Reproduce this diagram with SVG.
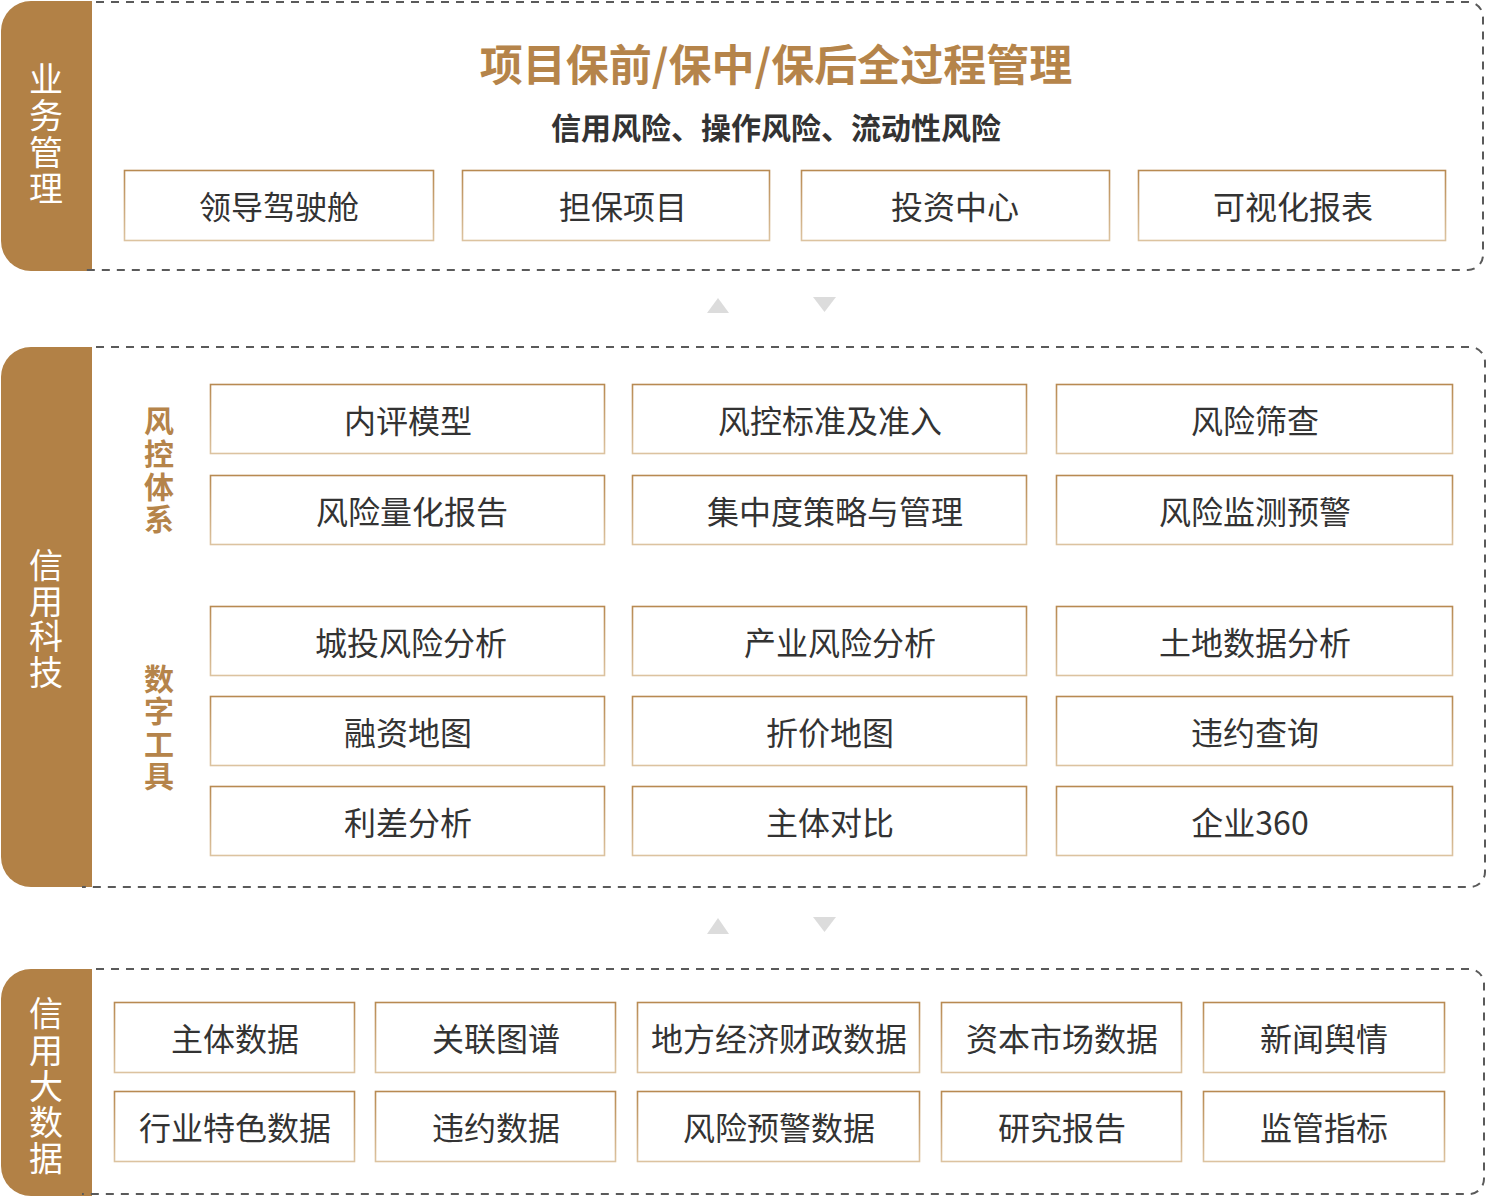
<svg xmlns="http://www.w3.org/2000/svg" width="1487" height="1197" viewBox="0 0 1487 1197">
<defs>
<linearGradient id="bs" x1="0" y1="0" x2="0" y2="1">
<stop offset="0" stop-color="#b88a52"/>
<stop offset="1" stop-color="#dcc3a0"/>
</linearGradient>
<style>
.tab{fill:#b28146;}
.tabt{fill:#ffffff;font-family:"Noto Sans CJK SC","Noto Sans",sans-serif;font-size:34px;text-anchor:middle;dominant-baseline:central;}
.sub{fill:#b5844a;font-family:"Noto Sans CJK SC","Noto Sans",sans-serif;font-size:30px;font-weight:700;text-anchor:middle;dominant-baseline:central;}
.cont{fill:none;stroke:#5a5a5a;stroke-width:2;stroke-dasharray:8 7;}
.box{fill:#ffffff;stroke:url(#bs);stroke-width:1.6;}
.bt{fill:#333333;font-family:"Noto Sans CJK SC","Noto Sans",sans-serif;font-size:32px;text-anchor:middle;dominant-baseline:central;}
.arr{fill:#dcdcdc;}
.title{fill:#b5844a;font-family:"Noto Sans CJK SC","Noto Sans",sans-serif;font-size:43px;font-weight:700;text-anchor:middle;dominant-baseline:central;}
.subtitle{fill:#333333;font-family:"Noto Sans CJK SC","Noto Sans",sans-serif;font-size:30px;font-weight:700;text-anchor:middle;dominant-baseline:central;}
</style>
</defs>
<rect width="1487" height="1197" fill="#ffffff"/>

<!-- Section 1 -->
<g id="sec-business">
<path class="tab" d="M92 1 H31 A30 30 0 0 0 1 31 V241 A30 30 0 0 0 31 271 H92 Z"/>
<path class="cont" d="M96 2 H1468 A15 15 0 0 1 1483 17 V255 A15 15 0 0 1 1468 270 H82"/>
<text class="tabt" x="46"><tspan x="46" y="77">业</tspan><tspan x="46" y="113">务</tspan><tspan x="46" y="150">管</tspan><tspan x="46" y="186">理</tspan></text>
<text class="title" x="776" y="62">项目保前/保中/保后全过程管理</text>
<text class="subtitle" x="776" y="126">信用风险、操作风险、流动性风险</text>
</g>
<g id="n-cockpit"><rect class="box" x="124.5" y="170.5" width="309" height="70"/><text class="bt" x="279" y="205">领导驾驶舱</text></g>
<g id="n-project"><rect class="box" x="462.5" y="170.5" width="307" height="70"/><text class="bt" x="623" y="205">担保项目</text></g>
<g id="n-invest"><rect class="box" x="801.5" y="170.5" width="308" height="70"/><text class="bt" x="955" y="205">投资中心</text></g>
<g id="n-report"><rect class="box" x="1138.5" y="170.5" width="307" height="70"/><text class="bt" x="1293" y="205">可视化报表</text></g>

<!-- Section 2 -->
<g id="sec-tech">
<path class="tab" d="M92 347 H31 A30 30 0 0 0 1 377 V857 A30 30 0 0 0 31 887 H92 Z"/>
<path class="cont" d="M96 347 H1470 A15 15 0 0 1 1485 362 V872 A15 15 0 0 1 1470 887 H82"/>
<text class="tabt" x="46"><tspan x="46" y="563">信</tspan><tspan x="46" y="599">用</tspan><tspan x="46" y="634">科</tspan><tspan x="46" y="670">技</tspan></text>
<text class="sub" x="159"><tspan x="159" y="419">风</tspan><tspan x="159" y="452">控</tspan><tspan x="159" y="485">体</tspan><tspan x="159" y="517">系</tspan></text>
<text class="sub" x="159"><tspan x="159" y="677">数</tspan><tspan x="159" y="709">字</tspan><tspan x="159" y="742">工</tspan><tspan x="159" y="774">具</tspan></text>
</g>
<g id="n-irb"><rect class="box" x="210.5" y="384.5" width="394" height="69"/><text class="bt" x="408" y="419">内评模型</text></g>
<g id="n-std"><rect class="box" x="632.5" y="384.5" width="394" height="69"/><text class="bt" x="830" y="419">风控标准及准入</text></g>
<g id="n-screen"><rect class="box" x="1056.5" y="384.5" width="396" height="69"/><text class="bt" x="1255" y="419">风险筛查</text></g>
<g id="n-quant"><rect class="box" x="210.5" y="475.5" width="394" height="69"/><text class="bt" x="412" y="510">风险量化报告</text></g>
<g id="n-conc"><rect class="box" x="632.5" y="475.5" width="394" height="69"/><text class="bt" x="835" y="510">集中度策略与管理</text></g>
<g id="n-monitor"><rect class="box" x="1056.5" y="475.5" width="396" height="69"/><text class="bt" x="1255" y="510">风险监测预警</text></g>
<g id="n-lgfv"><rect class="box" x="210.5" y="606.5" width="394" height="69"/><text class="bt" x="411" y="641">城投风险分析</text></g>
<g id="n-industry"><rect class="box" x="632.5" y="606.5" width="394" height="69"/><text class="bt" x="840" y="641">产业风险分析</text></g>
<g id="n-land"><rect class="box" x="1056.5" y="606.5" width="396" height="69"/><text class="bt" x="1255" y="641">土地数据分析</text></g>
<g id="n-finmap"><rect class="box" x="210.5" y="696.5" width="394" height="69"/><text class="bt" x="408" y="731">融资地图</text></g>
<g id="n-discmap"><rect class="box" x="632.5" y="696.5" width="394" height="69"/><text class="bt" x="830" y="731">折价地图</text></g>
<g id="n-default"><rect class="box" x="1056.5" y="696.5" width="396" height="69"/><text class="bt" x="1255" y="731">违约查询</text></g>
<g id="n-spread"><rect class="box" x="210.5" y="786.5" width="394" height="69"/><text class="bt" x="408" y="821">利差分析</text></g>
<g id="n-compare"><rect class="box" x="632.5" y="786.5" width="394" height="69"/><text class="bt" x="830" y="821">主体对比</text></g>
<g id="n-ent360"><rect class="box" x="1056.5" y="786.5" width="396" height="69"/><text class="bt" x="1250" y="821">企业360</text></g>

<!-- Section 3 -->
<g id="sec-data">
<path class="tab" d="M92 969 H31 A30 30 0 0 0 1 999 V1166 A30 30 0 0 0 31 1196 H92 Z"/>
<path class="cont" d="M96 969 H1469 A15 15 0 0 1 1484 984 V1179 A15 15 0 0 1 1469 1194 H82"/>
<text class="tabt" x="46"><tspan x="46" y="1011">信</tspan><tspan x="46" y="1048">用</tspan><tspan x="46" y="1084">大</tspan><tspan x="46" y="1120">数</tspan><tspan x="46" y="1156">据</tspan></text>
</g>
<g id="n-entity"><rect class="box" x="114.5" y="1002.5" width="240" height="70"/><text class="bt" x="235" y="1037">主体数据</text></g>
<g id="n-graph"><rect class="box" x="375.5" y="1002.5" width="240" height="70"/><text class="bt" x="496" y="1037">关联图谱</text></g>
<g id="n-local"><rect class="box" x="637.5" y="1002.5" width="282" height="70"/><text class="bt" x="779" y="1037">地方经济财政数据</text></g>
<g id="n-capital"><rect class="box" x="941.5" y="1002.5" width="240" height="70"/><text class="bt" x="1062" y="1037">资本市场数据</text></g>
<g id="n-news"><rect class="box" x="1203.5" y="1002.5" width="241" height="70"/><text class="bt" x="1324" y="1037">新闻舆情</text></g>
<g id="n-sector"><rect class="box" x="114.5" y="1091.5" width="240" height="70"/><text class="bt" x="235" y="1126">行业特色数据</text></g>
<g id="n-defdata"><rect class="box" x="375.5" y="1091.5" width="240" height="70"/><text class="bt" x="496" y="1126">违约数据</text></g>
<g id="n-warn"><rect class="box" x="637.5" y="1091.5" width="282" height="70"/><text class="bt" x="779" y="1126">风险预警数据</text></g>
<g id="n-research"><rect class="box" x="941.5" y="1091.5" width="240" height="70"/><text class="bt" x="1062" y="1126">研究报告</text></g>
<g id="n-regulate"><rect class="box" x="1203.5" y="1091.5" width="241" height="70"/><text class="bt" x="1324" y="1126">监管指标</text></g>

<!-- connectors -->
<g id="connectors">
<polygon class="arr" points="707,313 729,313 718,298"/>
<polygon class="arr" points="813,297 836,297 824.5,312"/>
<polygon class="arr" points="707,934 729,934 718,918"/>
<polygon class="arr" points="813,917 836,917 824.5,932"/>
</g>
</svg>
